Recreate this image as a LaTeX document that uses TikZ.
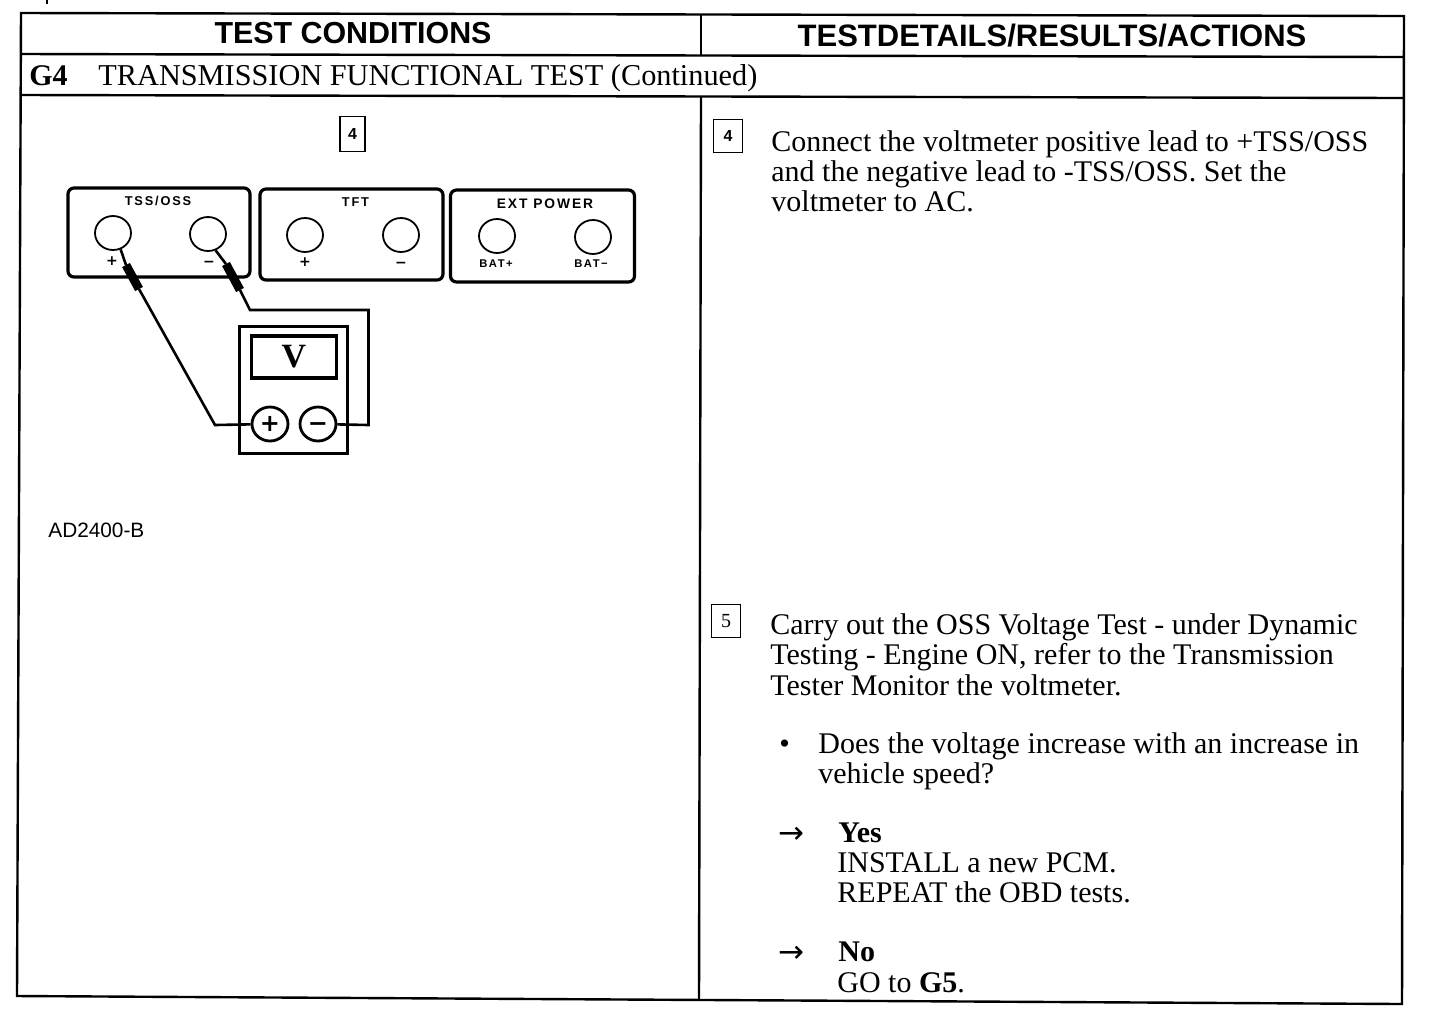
\documentclass[tikz,border=0pt]{standalone}
\usepackage{fontspec}
\setmainfont{Liberation Serif}
\newfontfamily\hv{Liberation Sans}
\newfontfamily\hvw[LetterSpace=14]{Liberation Sans}
\newfontfamily\djfont{DejaVu Sans}
\usetikzlibrary{shapes.geometric}
\tikzset{
 rule/.style={line width=1.2pt},
 panel/.style={draw,line width=1.6pt,rounded corners=3pt},
 jack/.style={draw,line width=0.9pt,ellipse,minimum width=18pt,minimum height=17pt,inner sep=0pt},
 mjack/.style={draw,line width=1.4pt,ellipse,minimum width=18pt,minimum height=17pt,inner sep=0pt},
 lead/.style={line width=1.3pt,line join=miter},
 probe/.style={line width=4.4pt},
 tiny/.style={font=\hvw\bfseries\fontsize{5.6}{6}\selectfont,inner sep=0pt},
 tinysign/.style={font=\djfont\bfseries\fontsize{7}{7}\selectfont,inner sep=0pt},
 body/.style={anchor=base west,inner sep=0pt,font=\fontsize{15}{16}\selectfont},
 arrowmark/.style={anchor=base west,inner sep=0pt,font=\djfont\fontsize{15.5}{16}\selectfont},
 head/.style={inner sep=0pt,font=\hv\bfseries\fontsize{15.2}{16}\selectfont},
 stepno/.style={draw,line width=0.9pt,inner sep=0pt,font=\hv\bfseries\fontsize{8}{9}\selectfont}
}
\begin{document}
\begin{tikzpicture}[x=0.5pt,y=-0.5pt]
\useasboundingbox (0,0) rectangle (1456,1014);
% table rules
\coordinate (tl) at (21,13); \coordinate (tr) at (1404,16);
\coordinate (bl) at (17,996); \coordinate (br) at (1402,1004);
\draw[rule] (tl)--(tr)--(br)--(bl)--cycle;
\draw[rule] (21,54)--(1404,57);
\draw[rule] (21,95)--(1404,98);
\draw[rule] (701,14)--(701,55);
\draw[rule] (701,97)--(699,1000);
\fill (46,0) rectangle (48,4);
% headers
\node[head] (h1) at (353,33) {TEST CONDITIONS};
\node[head,font=\hv\bfseries\fontsize{15.5}{16}\selectfont] (h2) at (1052,36) {TESTDETAILS/RESULTS/ACTIONS};
\node[body] (g4) at (29,85) {\textbf{G4}};
\node[body,font=\fontsize{15.15}{16}\selectfont] (g4t) at (98,85) {TRANSMISSION FUNCTIONAL TEST (Continued)};
% step boxes
\node[stepno,minimum width=12.5pt,minimum height=17.5pt] (s4a) at (352.5,134) {4};
\node[stepno,minimum width=14.5pt,minimum height=16.5pt] (s4b) at (728,136) {4};
\node[stepno,font=\fontsize{10}{10}\selectfont,minimum width=14.5pt,minimum height=16.5pt] (s5) at (726,621) {5};
% panels
\node[panel,minimum width=91pt,minimum height=44.5pt] (p1) at (159,232.5) {};
\node[panel,minimum width=91.5pt,minimum height=45.5pt] (p2) at (351.5,234.5) {};
\node[panel,minimum width=92pt,minimum height=46pt] (p3) at (542.5,236) {};
\node[tiny,font=\hvw\bfseries\fontsize{6.4}{7}\selectfont] (l1) at (158,201) {TSS/OSS};
\node[tiny,font=\hvw\bfseries\fontsize{6.4}{7}\selectfont] (l2) at (355.5,202) {TFT};
\node[tiny,font=\hvw\bfseries\fontsize{6.9}{7}\selectfont] (l3) at (545,204) {EXT POWER};
\node[jack] (a1) at (113,233) {};
\node[jack] (a2) at (208,234) {};
\node[jack] (b1) at (305,235) {};
\node[jack] (b2) at (401,235) {};
\node[jack] (c1) at (497,236) {};
\node[jack] (c2) at (593,237) {};
\node[tinysign] (a1l) at (112,261) {+};
\node[tinysign] (a2l) at (209,264) {−};
\node[tinysign] (b1l) at (305,262) {+};
\node[tinysign] (b2l) at (401,265) {−};
\node[tiny] (c1l) at (496,264) {BAT+};
\node[tiny] (c2l) at (591,264) {BAT−};
% meter
\node[draw,line width=1.5pt,minimum width=54pt,minimum height=63.5pt] (m) at (293.5,389.5) {};
\node[draw,line width=1.6pt,minimum width=42.5pt,minimum height=21pt,font=\bfseries\fontsize{17}{17}\selectfont,inner sep=0pt] (d) at (294,357) {V};
\node[mjack] (mp) at (270,424) {\djfont\bfseries\fontsize{12}{12}\selectfont +};
\node[mjack] (mm) at (318,424) {\djfont\bfseries\fontsize{12}{12}\selectfont\smash{\raisebox{-3.8pt}{−}}};
% leads
\coordinate (k1) at (215,425); \coordinate (k2) at (250,310);
\coordinate (k3) at (368.5,310); \coordinate (k4) at (368.5,425);
\coordinate (pa) at (126,265); \coordinate (pb) at (139,289);
\coordinate (pc) at (226,264); \coordinate (pd) at (240,290);
\draw[lead] (a1.-65) -- (pa);
\draw[probe] (pa) -- (pb);
\draw[lead] (pb) -- (k1) -- (mp);
\draw[lead] (a2.-65) -- (pc);
\draw[probe] (pc) -- (pd);
\draw[lead] (pd) -- (k2) -- (k3) -- (k4) -- (mm);
% right text
\node[body] (t1) at (771,151) {Connect the voltmeter positive lead to +TSS/OSS};
\node[body] (t2) at (771,181) {and the negative lead to -TSS/OSS. Set the};
\node[body] (t3) at (771,211) {voltmeter to AC.};
\node[anchor=west,inner sep=0pt,font=\hv\fontsize{10.4}{11}\selectfont] (cap) at (48,530) {AD2400-B};
\node[body] (u1) at (770,634) {Carry out the OSS Voltage Test - under Dynamic};
\node[body] (u2) at (770,664) {Testing - Engine ON, refer to the Transmission};
\node[body] (u3) at (770,695) {Tester Monitor the voltmeter.};
\node[body] (bu) at (779,753) {•};
\node[body] (v1) at (818,753) {Does the voltage increase with an increase in};
\node[body] (v2) at (818,783) {vehicle speed?};
\node[arrowmark] (ar1) at (778,843) {→};
\node[body] (y0) at (838,842) {\textbf{Yes}};
\node[body] (y1) at (837,872) {INSTALL a new PCM.};
\node[body] (y2) at (837,902) {REPEAT the OBD tests.};
\node[arrowmark] (ar2) at (778,962) {→};
\node[body] (n0) at (838,961) {\textbf{No}};
\node[body] (n1) at (837,992) {GO to \textbf{G5}.};
\end{tikzpicture}
\end{document}
